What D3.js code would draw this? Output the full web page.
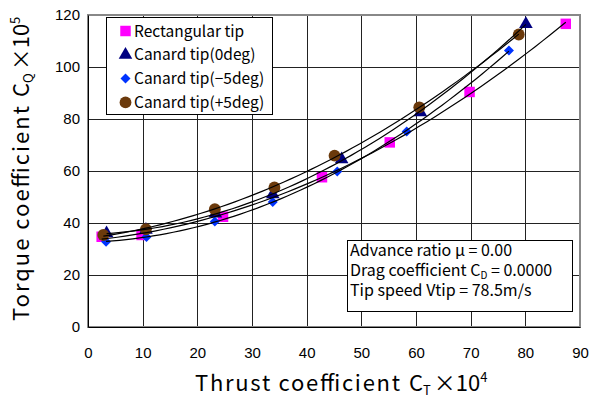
<!DOCTYPE html>
<html>
<head>
<meta charset="utf-8">
<script src="https://cdn.jsdelivr.net/npm/d3@7"></script>
<style>
  body { margin: 0; background: #fff; }
  text { font-family: "Noto Sans CJK JP", "Liberation Sans", sans-serif; fill: #000; }
  .tick text { font-family: "Liberation Sans", Arial, sans-serif; font-size: 15px; }
</style>
</head>
<body>
<svg id="chart"></svg>
<script>
    // series values: CT x 10^4 and CQ x 10^5
    var rectX  = [2.5, 9.8, 24.7, 42.8, 55.2, 69.8, 87.4];
    var rectY  = [34.7, 35.4, 42.4, 57.6, 71.0, 90.4, 116.6];
    var can0X  = [3.4, 10.6, 23.3, 33.8, 46.4, 60.8, 80.1];
    var can0Y  = [36.0, 37.4, 43.6, 51.0, 64.5, 82.6, 116.5];
    var canM5X = [3.3, 10.7, 23.2, 33.8, 45.6, 58.3, 77.0];
    var canM5Y = [32.8, 34.6, 40.6, 48.1, 59.8, 75.2, 106.3];
    var canP5X = [2.8, 10.6, 23.2, 34.1, 45.1, 60.6, 78.8];
    var canP5Y = [35.4, 37.6, 45.3, 53.7, 65.9, 84.5, 112.5];

    var seriesNames = ['Rectangular tip', 'Canard tip(0deg)', 'Canard tip(\u22125deg)', 'Canard tip(+5deg)'];
    var xTicks = [0, 10, 20, 30, 40, 50, 60, 70, 80, 90];
    var yTicks = [0, 20, 40, 60, 80, 100, 120];
    var notes = ['Advance ratio  \u03BC  = 0.00', 'Drag coefficient C', 'Tip speed Vtip = 78.5m/s'];

    var width = 589, height = 398;
    var plotL = 88, plotR = 580, plotT = 15, plotB = 327;

    var svg = d3.select('#chart').attr('width', width).attr('height', height);

    var x = d3.scaleLinear().domain([0, 90]).range([plotL, plotR]);
    var y = d3.scaleLinear().domain([0, 120]).range([plotB, plotT]);

    // grid
    svg.append('g').selectAll('line').data(xTicks.slice(1, -1)).join('line')
        .attr('x1', d => Math.round(x(d)) + 0.5).attr('x2', d => Math.round(x(d)) + 0.5)
        .attr('y1', plotT).attr('y2', plotB)
        .attr('stroke', '#222').attr('stroke-width', 1);
    svg.append('g').selectAll('line').data(yTicks.slice(1, -1)).join('line')
        .attr('y1', d => Math.round(y(d)) + 0.5).attr('y2', d => Math.round(y(d)) + 0.5)
        .attr('x1', plotL).attr('x2', plotR)
        .attr('stroke', '#222').attr('stroke-width', 1);

    // plot frame (top/right grey)
    svg.append('rect').attr('x', plotL).attr('y', plotT)
        .attr('width', plotR - plotL).attr('height', plotB - plotT)
        .attr('fill', 'none').attr('stroke', '#888').attr('stroke-width', 2);

    // axes
    var xAxis = d3.axisBottom(x).tickValues(xTicks).tickSize(0).tickPadding(20);
    svg.append('g').attr('transform', 'translate(0,' + plotB + ')').call(xAxis)
        .call(g => g.select('.domain').attr('stroke', '#000'));
    var yAxis = d3.axisLeft(y).tickValues(yTicks).tickSize(0).tickPadding(8);
    svg.append('g').attr('transform', 'translate(' + plotL + ',0)').call(yAxis)
        .call(g => g.select('.domain').attr('stroke', '#000'));

    var series = [
        { name: seriesNames[0], xs: rectX,  ys: rectY,  shape: d3.symbolSquare,   size: 110, rot: 0,  color: '#ff00ff' },
        { name: seriesNames[1], xs: can0X,  ys: can0Y,  shape: d3.symbolTriangle, size: 80,  rot: 0,  color: '#000080' },
        { name: seriesNames[2], xs: canM5X, ys: canM5Y, shape: d3.symbolSquare,   size: 50,  rot: 45, color: '#0033ff' },
        { name: seriesNames[3], xs: canP5X, ys: canP5Y, shape: d3.symbolCircle,   size: 110, rot: 0,  color: '#6b3a0c' }
    ];

    // markers
    series.forEach(function(s) {
        svg.append('g').selectAll('path').data(s.xs).join('path')
            .attr('d', d3.symbol().type(s.shape).size(s.size))
            .attr('transform', (d, i) => 'translate(' + x(d) + ',' + y(s.ys[i]) + ') rotate(' + s.rot + ')')
            .attr('fill', s.color);
    });

    // 2nd order polynomial trendline (least squares)
    function quadFit(xs, ys) {
        var S = [0, 0, 0, 0, 0], T = [0, 0, 0];
        xs.forEach(function(v, i) {
            for (var k = 0; k < 5; k++) S[k] += Math.pow(v, k);
            for (var k = 0; k < 3; k++) T[k] += Math.pow(v, k) * ys[i];
        });
        var A = [[S[0], S[1], S[2], T[0]], [S[1], S[2], S[3], T[1]], [S[2], S[3], S[4], T[2]]];
        for (var c = 0; c < 3; c++) {
            for (var r = c + 1; r < 3; r++) {
                var f = A[r][c] / A[c][c];
                for (var k = c; k < 4; k++) A[r][k] -= f * A[c][k];
            }
        }
        var b = [0, 0, 0];
        for (var r = 2; r >= 0; r--) {
            var v = A[r][3];
            for (var k = r + 1; k < 3; k++) v -= A[r][k] * b[k];
            b[r] = v / A[r][r];
        }
        return b;
    }
    var line = d3.line().x(d => x(d[0])).y(d => y(d[1]));
    series.forEach(function(s) {
        var b = quadFit(s.xs, s.ys);
        var x0 = d3.min(s.xs), x1 = d3.max(s.xs);
        var pts = d3.range(0, 61).map(function(i) {
            var v = x0 + (x1 - x0) * i / 60;
            return [v, b[0] + b[1] * v + b[2] * v * v];
        });
        svg.append('path').datum(pts).attr('d', line)
            .attr('fill', 'none').attr('stroke', '#000').attr('stroke-width', 1.2);
    });

    // legend
    var lg = svg.append('g');
    lg.append('rect').attr('x', 106.5).attr('y', 17.5).attr('width', 166).attr('height', 97)
        .attr('fill', '#fff').attr('stroke', '#000').attr('stroke-width', 1);
    series.forEach(function(s, i) {
        var cy = 31 + i * 23.8;
        lg.append('path').attr('d', d3.symbol().type(s.shape).size(s.size))
            .attr('transform', 'translate(125.5,' + cy + ') rotate(' + s.rot + ')').attr('fill', s.color);
        lg.append('text').attr('x', 134).attr('y', cy + 5.5)
            .style('font-size', '15.5px').text(s.name);
    });

    // notes box
    var nb = svg.append('g');
    nb.append('rect').attr('x', 347.5).attr('y', 240.5).attr('width', 225).attr('height', 71)
        .attr('fill', '#fff').attr('stroke', '#000').attr('stroke-width', 1);
    nb.append('text').attr('x', 350).attr('y', 256).style('font-size', '16px').text(notes[0]);
    var t2 = nb.append('text').attr('x', 350).attr('y', 276).style('font-size', '16px');
    t2.append('tspan').text(notes[1]);
    t2.append('tspan').attr('dy', 3).style('font-size', '10px').text('D');
    t2.append('tspan').attr('dy', -3).text(' = 0.0000');
    nb.append('text').attr('x', 350).attr('y', 296).style('font-size', '16px').text(notes[2]);

    // x title
    svg.append('text').attr('x', 195).attr('y', 391)
        .attr('textLength', 205).attr('lengthAdjust', 'spacing')
        .style('font-size', '22px').text('Thrust coefficient');
    var xt = svg.append('text').attr('x', 409).attr('y', 391).style('font-size', '22px');
    xt.append('tspan').text('C');
    xt.append('tspan').attr('dy', 4).style('font-size', '13px').text('T');
    xt.append('tspan').attr('dy', -4).attr('dx', 3).text('\u00D710');
    xt.append('tspan').attr('dy', -9).style('font-size', '13px').text('4');

    // y title
    var yg = svg.append('g').attr('transform', 'translate(29,0) rotate(-90)');
    yg.append('text').attr('x', -321).attr('y', 0)
        .attr('textLength', 215).attr('lengthAdjust', 'spacing')
        .style('font-size', '22px').text('Torque coefficient');
    var yt = yg.append('text').attr('x', -97).attr('y', 0).style('font-size', '22px');
    yt.append('tspan').text('C');
    yt.append('tspan').attr('dy', 4).style('font-size', '13px').text('Q');
    yt.append('tspan').attr('dy', -4).attr('dx', 3).text('\u00D710');
    yt.append('tspan').attr('dy', -9).style('font-size', '13px').text('5');
</script>
</body>
</html>
